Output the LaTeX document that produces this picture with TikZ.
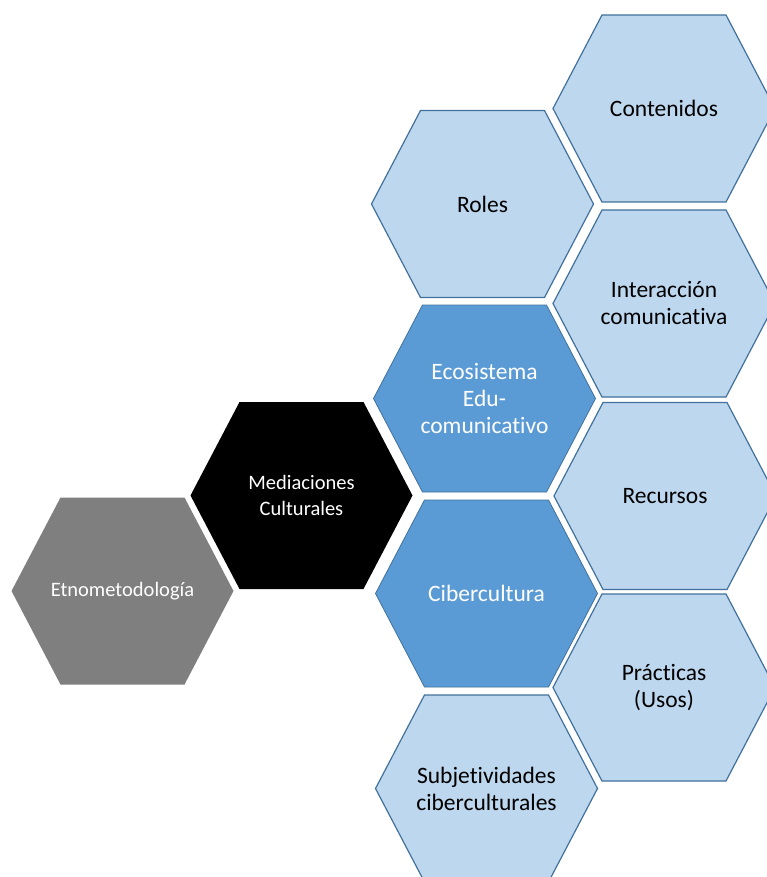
\documentclass[tikz,border=0pt]{standalone}
\usepackage{fontspec}
\setmainfont{Carlito}[RawFeature={-liga;-clig;-calt;-dlig;-rlig}]
\usetikzlibrary{patterns}

\definecolor{cellgrey}{HTML}{7F7F7F}
\definecolor{cellblue}{HTML}{5B9BD5}
\definecolor{celllight}{HTML}{BDD7EE}
\definecolor{cellline}{HTML}{41719C}

\tikzset{
    hexcell/.pic={
        \path[pic actions] (-111,0) -- (-62,-93.5) -- (62,-93.5) -- (111,0)
            -- (62,93.5) -- (-62,93.5) -- cycle;
    },
    greycell/.style={fill=cellgrey},
    blackcell/.style={fill=black},
    bluecell/.style={fill=cellblue, draw=cellline, line width=0.8pt},
    lightcell/.style={fill=celllight, draw=cellline, line width=1.2pt,
        postaction={pattern=dots, pattern color=white}},
    smalltext/.style={text=white, align=center, font=\fontsize{20.5}{26}\selectfont},
    bluetext/.style={text=white, align=center, font=\fontsize{23.5}{27}\selectfont},
    lighttext/.style={text=black, align=center, font=\fontsize{23.5}{27}\selectfont}
}

\begin{document}
\begin{tikzpicture}[x=1pt, y=-1pt]
        \useasboundingbox (0,0) rectangle (767,877);
        \clip (0,0) rectangle (767,877);

        % Left part of the chain
        \pic[greycell] at (122.5,591) {hexcell};
        \node[smalltext] (etno) at (122.5,591) {Etnometodología};

        \pic[blackcell] at (301.5,495.5) {hexcell};
        \node[smalltext] (medi) at (301.5,495.5) {Mediaciones\\Culturales};

        % Middle column
        \pic[lightcell] at (482.5,204) {hexcell};
        \node[lighttext] (roles) at (482.5,204) {Roles};

        \pic[bluecell] at (484.5,398.5) {hexcell};
        \node[bluetext] (eco) at (484.5,398.5) {Ecosistema\\Edu-\\comunicativo};

        \pic[bluecell] at (486.5,593.5) {hexcell};
        \node[bluetext] (ciber) at (486.5,593.5) {Cibercultura};

        \pic[lightcell] at (486.5,788.5) {hexcell};
        \node[lighttext] (subj) at (486.5,788.5) {Subjetividades\\ciberculturales};

        % Right column
        \pic[lightcell] at (664,108.5) {hexcell};
        \node[lighttext] (cont) at (664,108.5) {Contenidos};

        \pic[lightcell] at (664,303.5) {hexcell};
        \node[lighttext] (inter) at (664,303.5) {Interacción\\comunicativa};

        \pic[lightcell] at (665,496) {hexcell};
        \node[lighttext] (rec) at (665,496) {Recursos};

        \pic[lightcell] at (664,687.5) {hexcell};
        \node[lighttext] (prac) at (664,687.5) {Prácticas\\(Usos)};
\end{tikzpicture}
\end{document}
